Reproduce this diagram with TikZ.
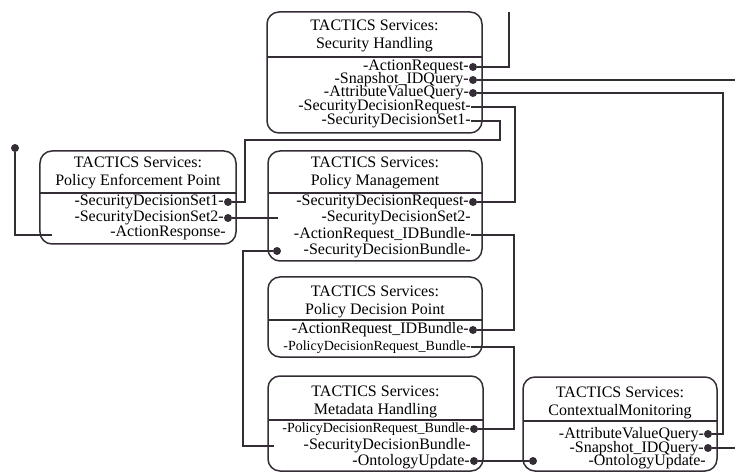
\documentclass[tikz,border=0pt]{standalone}
\usepackage{fontspec}
\setmainfont{Liberation Serif}
\usetikzlibrary{positioning}
\begin{document}
\begin{tikzpicture}[x=1bp, y=-1bp,
        svcbox/.style={draw=Lcolor, line width=1.5bp, shape=rectangle, rounded corners=12bp, inner sep=0pt},
        svctitle/.style={align=center, inner sep=0pt, font=\fontsize{16bp}{18bp}\selectfont},
        port/.style={anchor=east, inner sep=0pt, text height=11.5bp, text depth=3.5bp, font=\fontsize{16bp}{16bp}\selectfont},
        smallport/.style={port, text height=10bp, text depth=3bp, font=\fontsize{14bp}{14bp}\selectfont},
        pdot/.style={shape=circle, fill=Lcolor, inner sep=0pt, minimum size=8bp},
        wire/.style={draw=Lcolor, line width=1.7bp},
        divline/.style={draw=Lcolor, line width=1.5bp}]
    \definecolor{Lcolor}{RGB}{52,45,54}
    \useasboundingbox (0,0) rectangle (735,475);

    \node[svcbox, minimum width=215bp, minimum height=121bp] (sh) at (374.5,72.5) {};
    \node[svctitle] (sh-t) at (374.5,35.5) {TACTICS Services:\\Security Handling};
    \draw[divline] (267,57) -- (482,57);
    \node[port] (sh-ar) at (469,67) {-ActionRequest-};
    \node[pdot] (sh-ar-d) at (473,67) {};
    \node[port] (sh-siq) at (469,80) {-Snapshot\_IDQuery-};
    \node[pdot] (sh-siq-d) at (473,80) {};
    \node[port] (sh-avq) at (469,93) {-AttributeValueQuery-};
    \node[pdot] (sh-avq-d) at (473,93) {};
    \node[port] (sh-sdr) at (471,107) {-SecurityDecisionRequest-};
    \node[port] (sh-sds1) at (471,121) {-SecurityDecisionSet1-};

    \node[svcbox, minimum width=196bp, minimum height=93bp] (pep) at (138,197.5) {};
    \node[svctitle] (pep-t) at (138,173) {TACTICS Services:\\Policy Enforcement Point};
    \draw[divline] (40,193) -- (236,193);
    \node[port] (pep-sds1) at (224,202) {-SecurityDecisionSet1-};
    \node[pdot] (pep-sds1-d) at (228,202) {};
    \node[port] (pep-sds2) at (224,218) {-SecurityDecisionSet2-};
    \node[pdot] (pep-sds2-d) at (228,218) {};
    \node[port] (pep-arsp) at (226,233) {-ActionResponse-};

    \node[svcbox, minimum width=214bp, minimum height=110bp] (pm) at (375,206) {};
    \node[svctitle] (pm-t) at (375,173) {TACTICS Services:\\Policy Management};
    \draw[divline] (268,193) -- (482,193);
    \node[port] (pm-sdr) at (469,202) {-SecurityDecisionRequest-};
    \node[pdot] (pm-sdr-d) at (473,202) {};
    \node[port] (pm-sds2) at (471,218) {-SecurityDecisionSet2-};
    \node[port] (pm-arib) at (471,235) {-ActionRequest\_IDBundle-};
    \node[port] (pm-sdb) at (471,251) {-SecurityDecisionBundle-};
    \node[pdot] (pm-sdb-d) at (277,251) {};

    \node[svcbox, minimum width=214bp, minimum height=80bp] (pdp) at (375,317) {};
    \node[svctitle] (pdp-t) at (375,301.5) {TACTICS Services:\\Policy Decision Point};
    \draw[divline] (268,320) -- (482,320);
    \node[port] (pdp-arib) at (469,330) {-ActionRequest\_IDBundle-};
    \node[pdot] (pdp-arib-d) at (473,330) {};
    \node[smallport] (pdp-pdrb) at (471,347) {-PolicyDecisionRequest\_Bundle-};

    \node[svcbox, minimum width=215bp, minimum height=95bp] (mh) at (375.5,423.5) {};
    \node[svctitle] (mh-t) at (375.5,401.5) {TACTICS Services:\\Metadata Handling};
    \draw[divline] (268,420) -- (483,420);
    \node[smallport] (mh-pdrb) at (470,429) {-PolicyDecisionRequest\_Bundle-};
    \node[pdot] (mh-pdrb-d) at (474,429) {};
    \node[port] (mh-sdb) at (471,445) {-SecurityDecisionBundle-};
    \node[port] (mh-ou) at (470,461) {-OntologyUpdate-};
    \node[pdot] (mh-ou-d) at (474,461) {};

    \node[svcbox, minimum width=194bp, minimum height=94bp] (cm) at (620,424) {};
    \node[svctitle] (cm-t) at (620,403) {TACTICS Services:\\ContextualMonitoring};
    \draw[divline] (523,421) -- (717,421);
    \node[port] (cm-avq) at (704,434) {-AttributeValueQuery-};
    \node[pdot] (cm-avq-d) at (708,434) {};
    \node[port] (cm-siq) at (704,448) {-Snapshot\_IDQuery-};
    \node[pdot] (cm-siq-d) at (708,448) {};
    \node[port] (cm-ou) at (706,461) {-OntologyUpdate-};
    \node[pdot] (cm-ou-d) at (533,461) {};

    \coordinate (arTop) at (509,12);
    \coordinate (siqEnd) at (735,80);
    \coordinate (avqBus) at (723,300);
    \coordinate (sdrBus) at (515,150);
    \coordinate (sds1A) at (500,140);
    \coordinate (sds1B) at (245,170);
    \coordinate (pm-sds2-in) at (278,218);
    \coordinate (pep-arsp-in) at (52,235);
    \node[pdot] (pep-arsp-out) at (15,148) {};
    \coordinate (aribBus) at (514,280);
    \coordinate (pdrbBus) at (514,390);
    \coordinate (mh-sdb-in) at (274,446);
    \coordinate (sdbBus) at (243,350);
    \coordinate (cmSiqEnd) at (735,448);

    \draw[wire] (sh-ar-d) -| (arTop);
    \draw[wire] (sh-siq-d) -- (siqEnd);
    \draw[wire] (sh-avq-d) -| (avqBus) |- (cm-avq-d);
    \draw[wire] (sh-sdr.east) -| (sdrBus) |- (pm-sdr-d);
    \draw[wire] (sh-sds1.east) -| (sds1A) -| (sds1B) |- (pep-sds1-d);
    \draw[wire] (pep-sds2-d) -- (pm-sds2-in);
    \draw[wire] (pep-arsp-in) -| (pep-arsp-out);
    \draw[wire] (pm-arib.east) -| (aribBus) |- (pdp-arib-d);
    \draw[wire] (pdp-pdrb.east) -| (pdrbBus) |- (mh-pdrb-d);
    \draw[wire] (mh-sdb-in) -| (sdbBus) |- (pm-sdb-d);
    \draw[wire] (mh-ou-d) -- (cm-ou-d);
    \draw[wire] (cm-siq-d) -- (cmSiqEnd);
\end{tikzpicture}
\end{document}
